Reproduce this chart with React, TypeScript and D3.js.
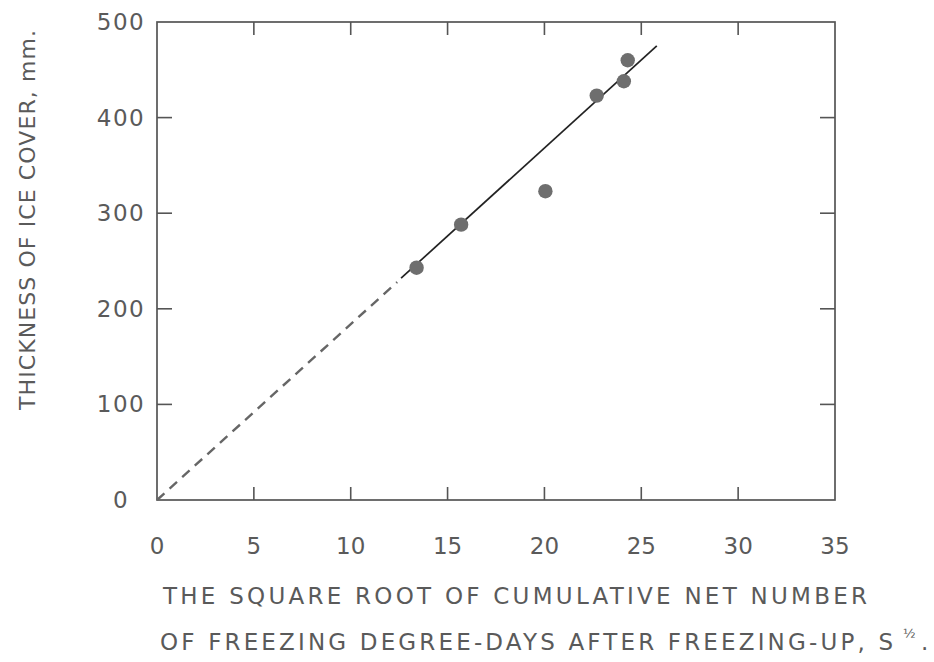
import React from "react";
import * as d3 from "d3";

const xTicks = [0, 5, 10, 15, 20, 25, 30, 35];
const yTicks = [0, 100, 200, 300, 400, 500];
const xInnerTicks = [5, 10, 15, 20, 25, 30];
const yInnerTicks = [100, 200, 300, 400];

const sqrtS = [13.4, 15.7, 20.05, 22.7, 24.1, 24.3];
const thickness = [243, 288, 323, 423, 438, 460];

const fitDashedX = [0, 12.4];
const fitDashedY = [0, 228];
const fitSolidX = [12.6, 25.8];
const fitSolidY = [232, 475];

const yTitle = "THICKNESS OF ICE COVER, mm.";
const xTitle1 = "THE SQUARE ROOT OF CUMULATIVE NET NUMBER";
const xTitle2 = "OF FREEZING DEGREE-DAYS AFTER FREEZING-UP, S";

export default function App() {
  const W = 934, H = 662;
  const x = d3.scaleLinear().domain([0, 35]).range([157, 835]);
  const y = d3.scaleLinear().domain([0, 500]).range([500, 22]);
  const line = d3.line<[number, number]>().x(d => x(d[0])).y(d => y(d[1]));
  const dashed = line(fitDashedX.map((v, i) => [v, fitDashedY[i]] as [number, number]));
  const solid = line(fitSolidX.map((v, i) => [v, fitSolidY[i]] as [number, number]));
  const ink = "#555";
  const txt = "#5a5a5a";
  const font = "'DejaVu Sans', sans-serif";
  return (
    <svg width={W} height={H} style={{ position: "absolute", left: 0, top: 0, background: "#fff" }}>
      <rect x={x(0)} y={y(500)} width={x(35) - x(0)} height={y(0) - y(500)} fill="none" stroke={ink} strokeWidth={1.7} />
      {xInnerTicks.map(t => (
        <g key={"xt" + t}>
          <line x1={x(t)} x2={x(t)} y1={y(0)} y2={y(0) - 13} stroke={ink} strokeWidth={1.6} />
          <line x1={x(t)} x2={x(t)} y1={y(500)} y2={y(500) + 13} stroke={ink} strokeWidth={1.6} />
        </g>
      ))}
      {yInnerTicks.map(t => (
        <g key={"yt" + t}>
          <line x1={x(0)} x2={x(0) + 15} y1={y(t)} y2={y(t)} stroke={ink} strokeWidth={1.6} />
          <line x1={x(35)} x2={x(35) - 15} y1={y(t)} y2={y(t)} stroke={ink} strokeWidth={1.6} />
        </g>
      ))}
      {xTicks.map(t => (
        <text key={"xl" + t} x={x(t)} y={554} textAnchor="middle" fontFamily={font} fontSize={23} fill={txt}>{t}</text>
      ))}
      {yTicks.map(t => (
        <text key={"yl" + t} x={121} y={y(t) + 8} textAnchor="middle" fontFamily={font} fontSize={23} fill={txt} letterSpacing={1.5}>{t}</text>
      ))}
      <path d={dashed || ""} fill="none" stroke="#666" strokeWidth={2.4} strokeDasharray="10 7" />
      <path d={solid || ""} fill="none" stroke="#222" strokeWidth={1.7} />
      {sqrtS.map((v, i) => (
        <circle key={"p" + i} cx={x(v)} cy={y(thickness[i])} r={7.2} fill="#6e6e6e" />
      ))}
      <text transform={`translate(35, 220) rotate(-90)`} textAnchor="middle" fontFamily={font} fontSize={22} fill={txt} textLength={380} lengthAdjust="spacing">{yTitle}</text>
      <text x={163} y={604} fontFamily={font} fontSize={23} fill={txt} textLength={704} lengthAdjust="spacing">{xTitle1}</text>
      <text x={160} y={650} fontFamily={font} fontSize={23} fill={txt} textLength={733} lengthAdjust="spacing">{xTitle2}</text>
      <text x={903} y={638} fontFamily={font} fontSize={13} fill={txt}>½</text>
      <text x={921} y={650} fontFamily={font} fontSize={23} fill={txt}>.</text>
    </svg>
  );
}
